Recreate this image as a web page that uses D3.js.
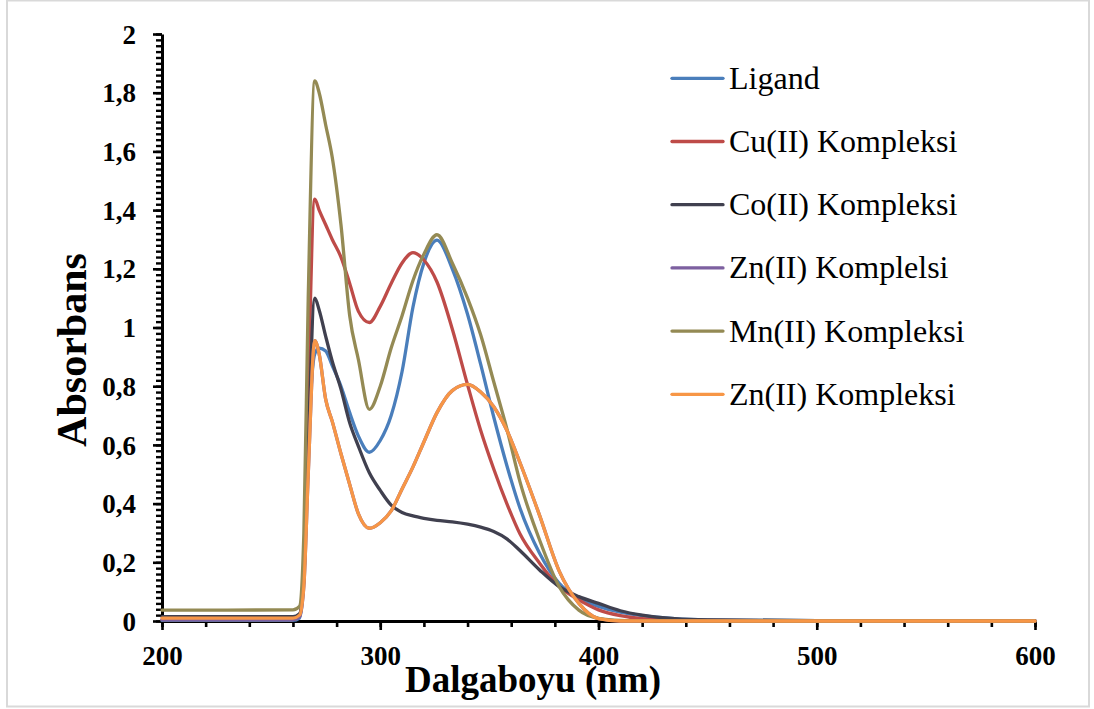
<!DOCTYPE html>
<html>
<head>
<meta charset="utf-8">
<script src="https://cdn.jsdelivr.net/npm/d3@7"></script>
<style>
  html, body { margin: 0; padding: 0; background: #ffffff; }
  svg { display: block; }
</style>
</head>
<body>
<svg id="chart" width="1094" height="709"></svg>
<script>
// Wavelengths (nm) at which the absorbance spectra are sampled
const wavelengths = [200, 230, 260, 263, 265, 267, 270, 272, 275, 278, 282, 286, 290, 295, 300, 305, 310, 315, 320, 326, 333, 340, 346, 352, 358, 364, 373, 382, 391, 400, 410, 420, 435, 450, 500, 600];

const ligand = [0.002, 0.002, 0.002, 0.01, 0.15, 0.6, 0.91, 0.93, 0.92, 0.87, 0.80, 0.71, 0.63, 0.575, 0.615, 0.70, 0.85, 1.07, 1.22, 1.298, 1.20, 1.045, 0.875, 0.695, 0.53, 0.385, 0.231, 0.128, 0.077, 0.05, 0.03, 0.018, 0.008, 0.004, 0.001, 0.0];
const cuComplex = [0.005, 0.005, 0.005, 0.015, 0.2, 0.8, 1.437, 1.40, 1.35, 1.30, 1.24, 1.15, 1.055, 1.017, 1.072, 1.15, 1.22, 1.255, 1.23, 1.155, 0.995, 0.805, 0.65, 0.518, 0.40, 0.297, 0.197, 0.117, 0.072, 0.038, 0.018, 0.008, 0.003, 0.002, 0.001, 0.0];
const coComplex = [0.015, 0.015, 0.015, 0.025, 0.15, 0.6, 1.10, 1.06, 0.97, 0.885, 0.79, 0.675, 0.595, 0.505, 0.445, 0.395, 0.37, 0.358, 0.35, 0.343, 0.338, 0.33, 0.32, 0.305, 0.28, 0.24, 0.174, 0.117, 0.083, 0.06, 0.035, 0.02, 0.008, 0.004, 0.001, 0.0];
const znComplexA = [0.005, 0.005, 0.005, 0.015, 0.12, 0.5, 0.955, 0.91, 0.755, 0.68, 0.57, 0.465, 0.365, 0.316, 0.335, 0.375, 0.45, 0.525, 0.61, 0.71, 0.785, 0.806, 0.78, 0.73, 0.65, 0.54, 0.36, 0.17, 0.06, 0.008, 0.0, 0.0, 0.0, 0.0, 0.0, 0.0];
const mnComplex = [0.037, 0.037, 0.038, 0.05, 0.3, 1.1, 1.84, 1.80, 1.69, 1.58, 1.35, 1.04, 0.89, 0.721, 0.80, 0.93, 1.04, 1.16, 1.25, 1.316, 1.22, 1.10, 0.975, 0.815, 0.655, 0.475, 0.276, 0.117, 0.037, 0.009, 0.002, 0.001, 0.0, 0.0, 0.0, 0.0];
const znComplexB = [0.01, 0.01, 0.01, 0.02, 0.12, 0.5, 0.955, 0.91, 0.755, 0.68, 0.57, 0.465, 0.365, 0.316, 0.335, 0.375, 0.45, 0.525, 0.61, 0.71, 0.785, 0.806, 0.78, 0.73, 0.65, 0.54, 0.36, 0.17, 0.06, 0.008, 0.0, 0.0, 0.0, 0.0, 0.0, 0.0];

const seriesNames = ["Ligand", "Cu(II) Kompleksi", "Co(II) Kompleksi", "Zn(II) Komplelsi", "Mn(II) Kompleksi", "Zn(II) Kompleksi"];
const seriesValues = [ligand, cuComplex, coComplex, znComplexA, mnComplex, znComplexB];
const seriesColors = ["#4A7EBB", "#BE4B48", "#40404F", "#7D60A0", "#948A54", "#F79646"];

const xTickValues = [200, 300, 400, 500, 600];
const yTickValues = [0, 0.2, 0.4, 0.6, 0.8, 1, 1.2, 1.4, 1.6, 1.8, 2];
const xTitle = "Dalgaboyu (nm)";
const yTitle = "Absorbans";

const svg = d3.select("#chart");
const plot = { left: 162, right: 1035, top: 34, bottom: 621 };
const serif = "'Liberation Serif', 'Times New Roman', serif";

// Outer chart frame
svg.append("rect")
  .attr("x", 7).attr("y", 0.5)
  .attr("width", 1082).attr("height", 706)
  .attr("fill", "#ffffff")
  .attr("stroke", "#d9d9d9")
  .attr("stroke-width", 2);

const x = d3.scaleLinear().domain([200, 600]).range([plot.left, plot.right]);
const y = d3.scaleLinear().domain([0, 2]).range([plot.bottom, plot.top]);

const fmt = v => String(+v.toFixed(1)).replace(".", ",");

// Minor ticks
const xMinor = d3.range(200, 601, 20);
const yMinor = d3.range(0, 2.0001, 0.02);

svg.append("g")
  .attr("transform", `translate(0,${plot.bottom})`)
  .call(d3.axisBottom(x).tickValues(xMinor).tickSize(6).tickFormat(""))
  .call(g => g.select(".domain").remove())
  .call(g => g.selectAll("line").attr("stroke", "#000").attr("stroke-width", 2.6));

svg.append("g")
  .attr("transform", `translate(${plot.left},0)`)
  .call(d3.axisLeft(y).tickValues(yMinor).tickSize(6).tickFormat(""))
  .call(g => g.select(".domain").remove())
  .call(g => g.selectAll("line").attr("stroke", "#000").attr("stroke-width", 2.4));

// Major axes
const xAxis = svg.append("g")
  .attr("transform", `translate(0,${plot.bottom})`)
  .call(d3.axisBottom(x).tickValues(xTickValues).tickSize(9).tickSizeOuter(0).tickPadding(16).tickFormat(d3.format("d")));
const yAxis = svg.append("g")
  .attr("transform", `translate(${plot.left},0)`)
  .call(d3.axisLeft(y).tickValues(yTickValues).tickSize(9).tickSizeOuter(0).tickPadding(17).tickFormat(fmt));

[xAxis, yAxis].forEach(g => {
  g.select(".domain").attr("stroke", "#000").attr("stroke-width", 3);
  g.selectAll(".tick line").attr("stroke", "#000").attr("stroke-width", 2.6);
  g.selectAll(".tick text")
    .attr("fill", "#000")
    .style("font-family", serif)
    .style("font-weight", "bold")
    .style("font-size", "27px");
});
yAxis.selectAll(".tick text").attr("dy", "0.34em");

// Spectra
const line = d3.line()
  .x((d, i) => x(wavelengths[i]))
  .y(d => y(d))
  .curve(d3.curveMonotoneX);

svg.append("g")
  .selectAll("path")
  .data(seriesValues)
  .join("path")
  .attr("d", d => line(d))
  .attr("fill", "none")
  .attr("stroke", (d, i) => seriesColors[i])
  .attr("stroke-width", 3.3)
  .attr("stroke-linejoin", "round")
  .attr("stroke-linecap", "round");

// Axis titles
svg.append("text")
  .attr("x", 533).attr("y", 692)
  .attr("text-anchor", "middle")
  .style("font-family", serif)
  .style("font-weight", "bold")
  .style("font-size", "37px")
  .text(xTitle);

svg.append("text")
  .attr("transform", "translate(86,350) rotate(-90)")
  .attr("text-anchor", "middle")
  .style("font-family", serif)
  .style("font-weight", "bold")
  .style("font-size", "42px")
  .text(yTitle);

// Legend
const legend = svg.append("g");
const legendRows = legend.selectAll("g")
  .data(seriesNames)
  .join("g")
  .attr("transform", (d, i) => `translate(672,${78.3 + i * 63.2})`);
legendRows.append("line")
  .attr("x1", 0).attr("x2", 51)
  .attr("stroke", (d, i) => seriesColors[i])
  .attr("stroke-width", 3.3)
  .attr("stroke-linecap", "round");
legendRows.append("text")
  .attr("x", 57).attr("y", 10.5)
  .style("font-family", serif)
  .style("font-size", "32px")
  .attr("fill", "#000")
  .text(d => d);
</script>
</body>
</html>
